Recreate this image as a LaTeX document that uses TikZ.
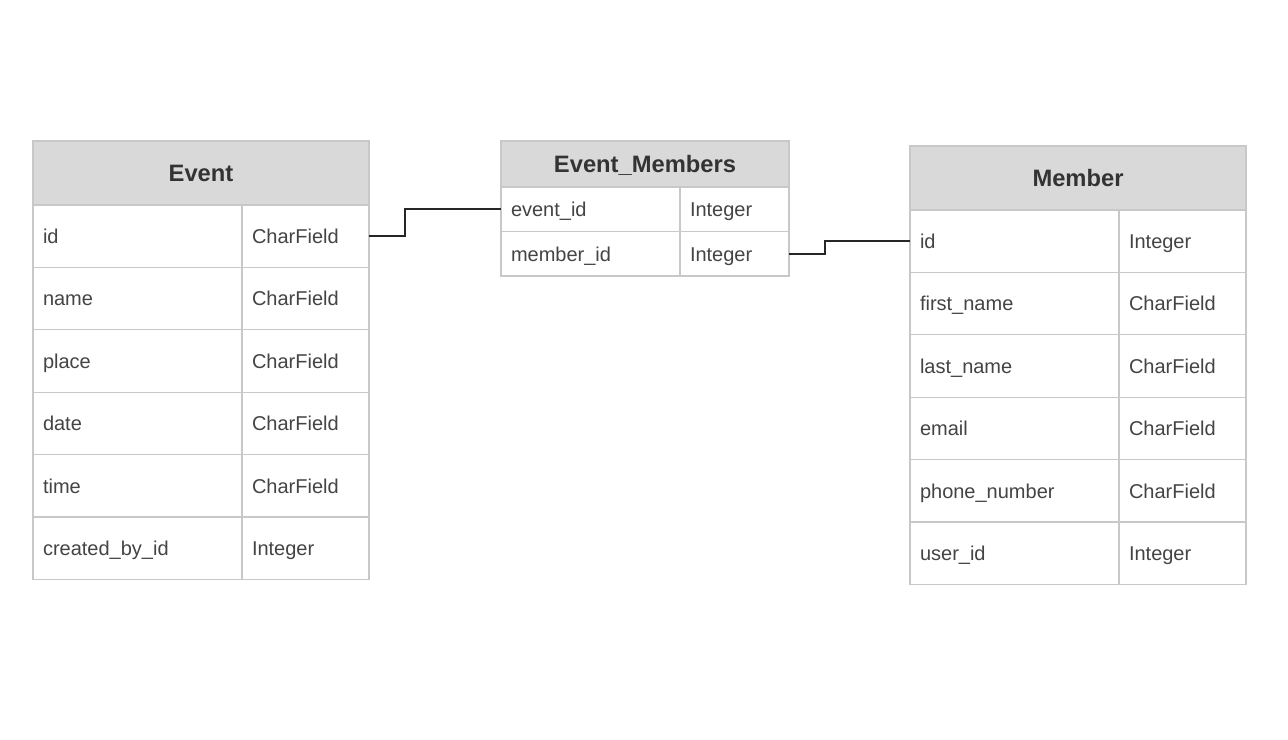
\documentclass[tikz,border=0pt]{standalone}
\usepackage{fontspec}
\setmainfont{Liberation Sans}
\usetikzlibrary{positioning}
\definecolor{cellline}{HTML}{C8C8C8}
\definecolor{headfill}{HTML}{D9D9D9}
\definecolor{celltext}{HTML}{444444}
\definecolor{headtext}{HTML}{333333}

\begin{document}
\begin{tikzpicture}[x=0.75pt, y=-0.75pt,
    head/.style={rectangle, draw=cellline, fill=headfill, line width=0.9pt, text=headtext, font=\fontsize{17.8}{20}\selectfont\bfseries, inner sep=0pt, outer sep=0pt, text height=14.5pt, text depth=2pt, anchor=north west},
    cell/.style={rectangle, draw=cellline, fill=white, line width=0.9pt, text=celltext, font=\fontsize{15}{18}\selectfont, inner xsep=7.5pt, inner ysep=0pt, outer sep=0pt, text height=13pt, text depth=2pt, align=left, anchor=north west},
    link/.style={draw=black!85, line width=1.2pt}]

\useasboundingbox (0,0) rectangle (1288,739);

% Event
\node[head, minimum width=252pt, minimum height=48pt] (event) at (33,141) {Event};
\foreach \nm/\ty [count=\i] in {id/CharField, name/CharField, place/CharField, date/CharField, time/CharField, created\_by\_id/Integer} {
  \node[cell, text width=141.75pt, minimum height=46.8pt] (event-\i-n) at (33,{205+62.4*(\i-1)}) {\nm};
  \node[cell, text width=80.25pt, minimum height=46.8pt] (event-\i-t) [right=0pt of event-\i-n] {\ty};
}

% Event_Members
\node[head, minimum width=216pt, minimum height=34.5pt] (em) at (501,141) {Event\_Members};
\foreach \nm/\ty [count=\i] in {event\_id/Integer, member\_id/Integer} {
  \node[cell, text width=119.25pt, minimum height=33.4pt] (em-\i-n) at (501,{187+44.5*(\i-1)}) {\nm};
  \node[cell, text width=66.75pt, minimum height=33.4pt] (em-\i-t) [right=0pt of em-\i-n] {\ty};
}

% Member
\node[head, minimum width=252pt, minimum height=48pt] (member) at (910,146) {Member};
\foreach \nm/\ty [count=\i] in {id/Integer, first\_name/CharField, last\_name/CharField, email/CharField, phone\_number/CharField, user\_id/Integer} {
  \node[cell, text width=141.75pt, minimum height=46.8pt] (member-\i-n) at (910,{210+62.4*(\i-1)}) {\nm};
  \node[cell, text width=80.25pt, minimum height=46.8pt] (member-\i-t) [right=0pt of member-\i-n] {\ty};
}

% links
\draw[link] (event-1-t.east) -- ++(36,0) |- (em-1-n.west);
\draw[link] (em-2-t.east) -- ++(36,0) |- (member-1-n.west);
\end{tikzpicture}
\end{document}
